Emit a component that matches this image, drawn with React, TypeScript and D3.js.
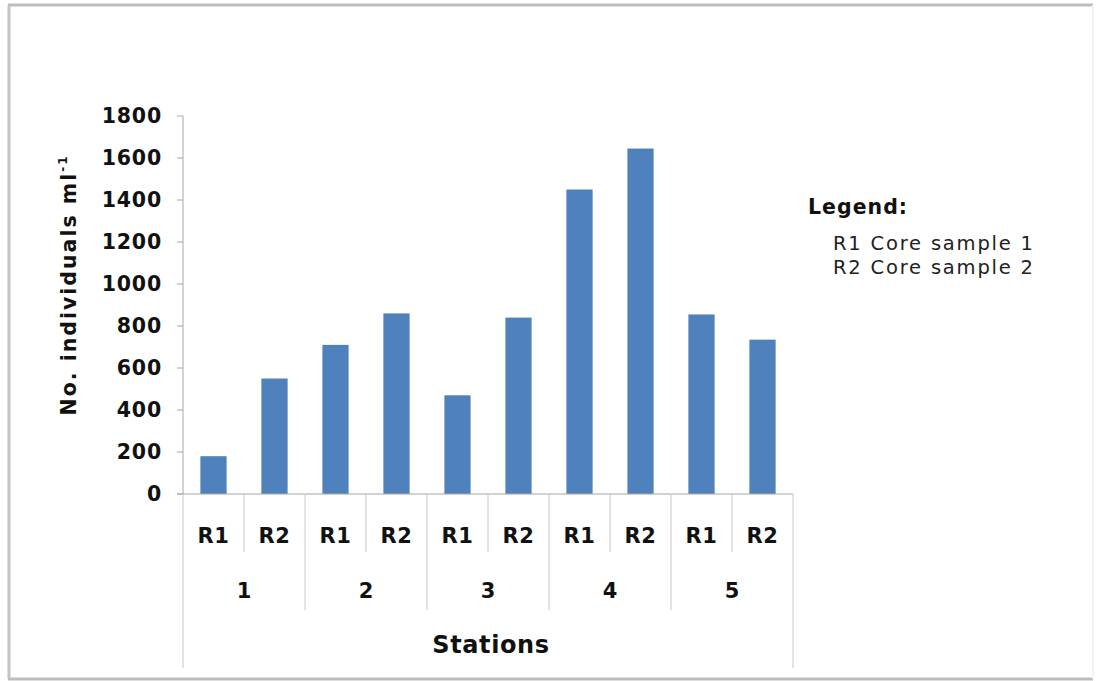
import React from "react";
import * as d3 from "d3";

const stations = ["1", "2", "3", "4", "5"];
const replicates = ["R1", "R2"];
const r1Values = [180, 710, 470, 1450, 855];
const r2Values = [550, 860, 840, 1645, 735];
const yTicks = [0, 200, 400, 600, 800, 1000, 1200, 1400, 1600, 1800];
const legendLines = ["R1 Core sample 1", "R2 Core sample 2"];

const W = 1102;
const H = 681;
const FONT = "'DejaVu Sans', Verdana, sans-serif";

export default function App() {
  const left = 183;
  const right = 793;
  const top = 116;
  const bottom = 494;

  const y = d3.scaleLinear().domain([0, 1800]).range([bottom, top]);
  const x0 = d3.scaleBand<string>().domain(stations).range([left, right]).padding(0);
  const x1 = d3.scaleBand<string>().domain(replicates).range([0, x0.bandwidth()]).padding(0);
  const barW = x1.bandwidth() * 0.43;

  const data = stations.flatMap((s, i) => [
    { station: s, rep: "R1", value: r1Values[i] },
    { station: s, rep: "R2", value: r2Values[i] },
  ]);

  const axisColor = "#a6a6a6";
  const sepColor = "#c8c8c8";
  const ink = "#111";

  return (
    <svg width={W} height={H} style={{ position: "absolute", left: 0, top: 0 }}>
      <rect x={0} y={0} width={W} height={H} fill="#fff" />
      {/* outer frame */}
      <line x1={8} y1={5} x2={1093} y2={5} stroke="#bdbdbd" strokeWidth={3} />
      <line x1={9} y1={5} x2={9} y2={679} stroke="#c4c4c4" strokeWidth={3} />
      <line x1={8} y1={679} x2={1093} y2={679} stroke="#bdbdbd" strokeWidth={3} />
      <line x1={1093} y1={5} x2={1093} y2={679} stroke="#f2f2f2" strokeWidth={2} />

      {/* bars */}
      {data.map((d) => {
        const cx = (x0(d.station) as number) + (x1(d.rep) as number) + x1.bandwidth() / 2;
        return (
          <rect
            key={d.station + d.rep}
            x={cx - barW / 2}
            y={y(d.value)}
            width={barW}
            height={y(0) - y(d.value)}
            fill="#4f81bd"
          />
        );
      })}

      {/* y axis */}
      <line x1={left} y1={top} x2={left} y2={bottom} stroke={axisColor} strokeWidth={1} />
      {yTicks.map((t) => (
        <g key={t}>
          <line x1={left - 6} y1={y(t)} x2={left} y2={y(t)} stroke={axisColor} />
          <text
            x={162}
            y={y(t)}
            dy="0.36em"
            textAnchor="end"
            fontFamily={FONT}
            fontWeight="bold"
            fontSize={20.5}
            letterSpacing={0.8}
            fill={ink}
          >
            {t}
          </text>
        </g>
      ))}

      {/* x axis */}
      <line x1={left - 6} y1={bottom} x2={right} y2={bottom} stroke={axisColor} />
      {/* separators */}
      {stations.map((s) => (
        <line
          key={"sep" + s}
          x1={(x0(s) as number) + (x1("R2") as number)}
          x2={(x0(s) as number) + (x1("R2") as number)}
          y1={bottom}
          y2={552}
          stroke={sepColor}
        />
      ))}
      {stations.slice(1).map((s) => (
        <line key={"st" + s} x1={x0(s) as number} x2={x0(s) as number} y1={bottom} y2={610} stroke={sepColor} />
      ))}
      <line x1={left} x2={left} y1={bottom} y2={668} stroke={sepColor} />
      <line x1={right} x2={right} y1={bottom} y2={668} stroke={sepColor} />

      {/* replicate labels */}
      {data.map((d) => {
        const cx = (x0(d.station) as number) + (x1(d.rep) as number) + x1.bandwidth() / 2;
        return (
          <text
            key={"lab" + d.station + d.rep}
            x={cx}
            y={543}
            textAnchor="middle"
            fontFamily={FONT}
            fontWeight="bold"
            fontSize={21}
            letterSpacing={0.5}
            fill={ink}
          >
            {d.rep}
          </text>
        );
      })}
      {/* station labels */}
      {stations.map((s) => (
        <text
          key={"stl" + s}
          x={(x0(s) as number) + x0.bandwidth() / 2}
          y={598}
          textAnchor="middle"
          fontFamily={FONT}
          fontWeight="bold"
          fontSize={21}
          fill={ink}
        >
          {s}
        </text>
      ))}
      <text
        x={491}
        y={653}
        textAnchor="middle"
        fontFamily={FONT}
        fontWeight="bold"
        fontSize={24}
        letterSpacing={0.6}
        fill={ink}
      >
        Stations
      </text>

      {/* y title */}
      <text
        transform={`translate(76, 285) rotate(-90)`}
        textAnchor="middle"
        fontFamily={FONT}
        fontWeight="bold"
        fontSize={20.5}
        letterSpacing={2}
        fill={ink}
      >
        No. individuals ml
        <tspan fontSize={12} dy={-9}>
          -1
        </tspan>
      </text>

      {/* legend */}
      <text x={808} y={214} fontFamily={FONT} fontWeight="bold" fontSize={20.5} letterSpacing={1} fill={ink}>
        Legend:
      </text>
      {legendLines.map((l, i) => (
        <text
          key={l}
          x={833}
          y={250 + i * 24}
          fontFamily={FONT}
          fontSize={19.5}
          letterSpacing={1.8}
          fill="#222"
        >
          {l}
        </text>
      ))}
    </svg>
  );
}
